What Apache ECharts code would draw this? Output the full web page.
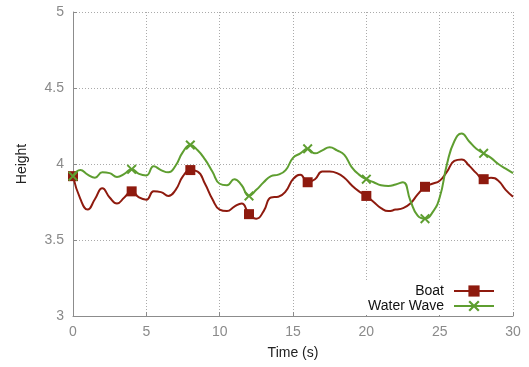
<!DOCTYPE html>
<html>
<head>
<meta charset="utf-8">
<script src="https://cdn.jsdelivr.net/npm/echarts@6/dist/echarts.min.js"></script>
<style>
  html, body { margin: 0; padding: 0; background: #fff; }
  #chart { width: 529px; height: 367px; }
</style>
</head>
<body>
<div id="chart"></div>
<script>
// Sample times (s), every 0.5 s
const times = [
  0, 0.5, 1, 1.5, 2, 2.5, 3, 3.5, 4, 4.5, 5, 5.5, 6, 6.5, 7, 7.5, 8, 8.5, 9, 9.5,
  10, 10.5, 11, 11.5, 12, 12.5, 13, 13.5, 14, 14.5, 15, 15.5, 16, 16.5, 17, 17.5,
  18, 18.5, 19, 19.5, 20, 20.5, 21, 21.5, 22, 22.5, 23, 23.5, 24, 24.5, 25, 25.5,
  26, 26.5, 27, 27.5, 28, 28.5, 29, 29.5, 30
];

// Boat height
const boat = [
  3.92, 3.77, 3.70, 3.77, 3.84, 3.78, 3.74, 3.78, 3.82, 3.78, 3.765, 3.82, 3.815, 3.79,
  3.83, 3.92, 3.96, 3.95, 3.87, 3.77, 3.70, 3.69, 3.72, 3.74, 3.67, 3.64, 3.69, 3.78,
  3.785, 3.82, 3.90, 3.93, 3.88, 3.90, 3.95, 3.95, 3.94, 3.91, 3.86, 3.82, 3.79, 3.75,
  3.71, 3.69, 3.70, 3.71, 3.74, 3.80, 3.85, 3.87, 3.89, 3.95, 4.02, 4.03, 3.99, 3.94,
  3.90, 3.91, 3.89, 3.83, 3.785
];

// Water wave height
const wave = [
  3.92, 3.96, 3.93, 3.91, 3.945, 3.94, 3.915, 3.935, 3.965, 3.935, 3.925, 3.985, 3.96,
  3.945, 3.99, 4.08, 4.125, 4.09, 4.03, 3.95, 3.87, 3.86, 3.90, 3.86, 3.79, 3.83, 3.88,
  3.92, 3.93, 3.96, 4.04, 4.07, 4.10, 4.07, 4.09, 4.11, 4.09, 4.06, 3.98, 3.93, 3.90,
  3.88, 3.86, 3.855, 3.865, 3.88, 3.76, 3.66, 3.64, 3.68, 3.78, 4.00, 4.15, 4.20, 4.15,
  4.10, 4.07, 4.04, 4.00, 3.97, 3.94
];

const seriesNames = ['Boat', 'Water Wave'];
const xTicks = { min: 0, max: 30, interval: 5 };
const yTicks = { min: 3, max: 5, interval: 0.5 };
const markerEvery = 4; // seconds between markers

const RED = '#8e1a0e';
const GREEN = '#5e9e30';
const CROSS = 'path://M0,1.4 L1.4,0 L5,3.6 L8.6,0 L10,1.4 L6.4,5 L10,8.6 L8.6,10 L5,6.4 L1.4,10 L0,8.6 L3.6,5 Z';
const FONT = 'Liberation Sans, Arial, sans-serif';

function points(values, symbol) {
  return times.map((t, i) => {
    const marked = Math.abs(t / markerEvery - Math.round(t / markerEvery)) < 1e-9;
    return { value: [t, values[i]], symbol: marked ? symbol : 'none' };
  });
}

const chart = echarts.init(document.getElementById('chart'), null, { renderer: 'canvas' });

const axisCommon = {
  type: 'value',
  axisLine: { show: true, lineStyle: { color: '#8c8c8c', width: 1 } },
  axisTick: { show: true, inside: true, length: 4, lineStyle: { color: '#8c8c8c' } },
  axisLabel: { color: '#8a8a8a', fontSize: 14, fontFamily: FONT, margin: 9 },
  splitLine: { show: true, lineStyle: { color: '#aaaaaa', type: [1, 2], width: 1 } },
  nameTextStyle: { color: '#222', fontSize: 14, fontFamily: FONT }
};

chart.setOption({
  animation: false,
  backgroundColor: '#fff',
  grid: { left: 73, right: 16, top: 12, bottom: 51, containLabel: false },
  xAxis: Object.assign({}, axisCommon, {
    min: xTicks.min, max: xTicks.max, interval: xTicks.interval,
    name: 'Time (s)', nameLocation: 'middle', nameGap: 30
  }),
  yAxis: Object.assign({}, axisCommon, {
    min: yTicks.min, max: yTicks.max, interval: yTicks.interval,
    name: 'Height', nameLocation: 'middle', nameGap: 44,
    axisLabel: Object.assign({}, axisCommon.axisLabel, {
      formatter: v => String(+v.toFixed(1))
    })
  }),
  legend: {
    orient: 'vertical',
    right: 30,
    bottom: 52,
    align: 'right',
    itemWidth: 40,
    itemHeight: 14,
    itemGap: 1,
    padding: [2, 4, 2, 6],
    backgroundColor: '#fff',
    textStyle: { color: '#111', fontSize: 14, fontFamily: FONT, padding: [0, 5, 0, 0] },
    data: seriesNames
  },
  series: [
    {
      name: seriesNames[0],
      type: 'line',
      smooth: 0.5,
      data: points(boat, 'rect'),
      symbol: 'rect',
      symbolSize: 10,
      showSymbol: true,
      lineStyle: { color: RED, width: 2 },
      itemStyle: { color: RED },
      z: 2
    },
    {
      name: seriesNames[1],
      type: 'line',
      smooth: 0.5,
      data: points(wave, CROSS),
      symbol: CROSS,
      symbolSize: 10,
      showSymbol: true,
      lineStyle: { color: GREEN, width: 2 },
      itemStyle: { color: GREEN },
      z: 3
    }
  ]
});
</script>
</body>
</html>
